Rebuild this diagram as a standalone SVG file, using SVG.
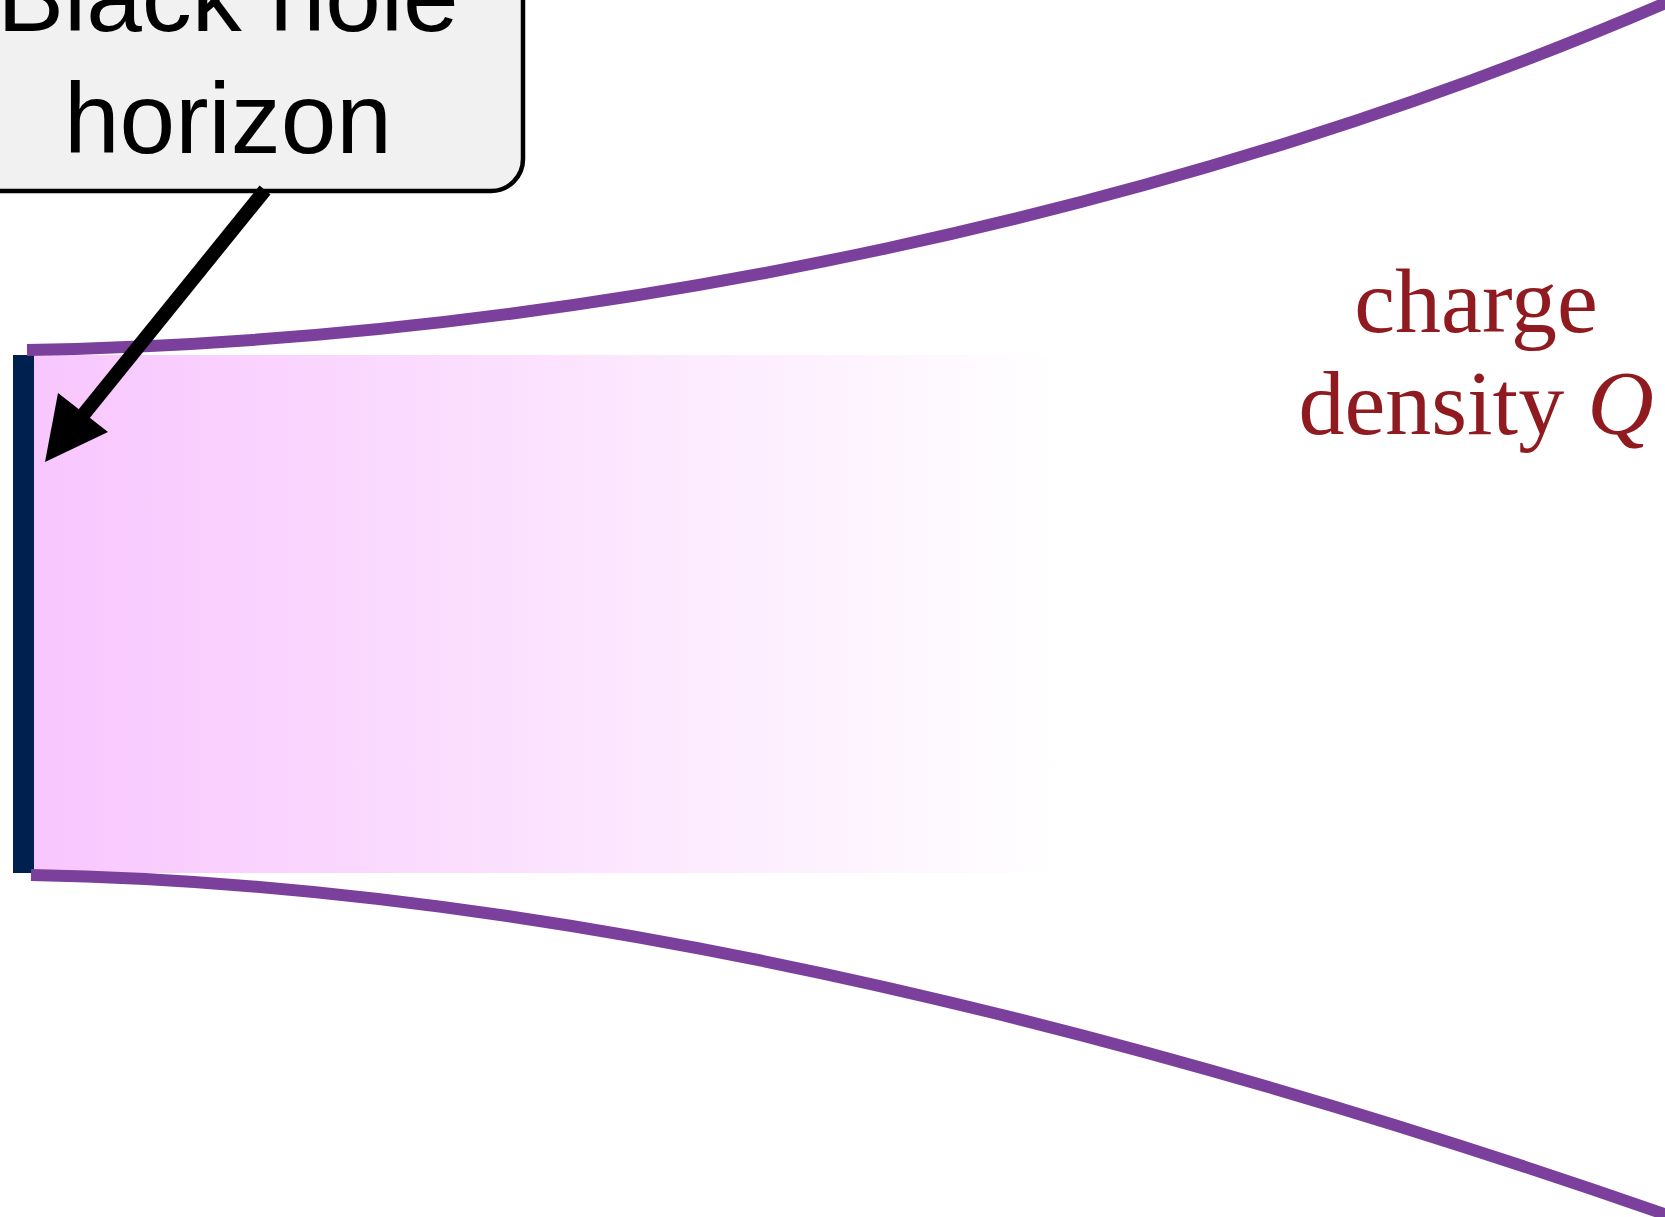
<svg xmlns="http://www.w3.org/2000/svg" width="1665" height="1217" viewBox="0 0 1665 1217">
<defs>
<style>
.brane{fill:none;stroke:#7b3f9c;stroke-width:12}
.boxtext{font-family:"Liberation Sans",Arial,sans-serif;font-size:100px;fill:#000}
.label{font-family:"Liberation Serif","Times New Roman",serif;font-size:92px;fill:#8f1a1f}
</style>
<linearGradient id="glow" x1="0" y1="0" x2="1" y2="0">
<stop offset="0" stop-color="#f8c6fe"/>
<stop offset="1" stop-color="#ffffff"/>
</linearGradient>
</defs>
<g id="bulk">
<rect x="34" y="355" width="1030" height="518" fill="url(#glow)"/>
</g>
<g id="horizon">
<rect x="13" y="355" width="21" height="518" fill="#002150"/>
</g>
<g id="branes">
<path class="brane" d="M27,350 C600,340 1200,205 1670,1"/>
<path class="brane" d="M31,875 C600,885 1200,1052 1670,1216"/>
</g>
<g id="label-box">
<rect x="-69" y="-100" width="592" height="291" rx="32" fill="#f1f1f1" stroke="#000" stroke-width="4.5"/>
<text class="boxtext" x="228" y="31" text-anchor="middle">Black hole</text>
<text class="boxtext" x="228" y="153" text-anchor="middle">horizon</text>
</g>
<g id="charge-label">
<text class="label" x="1476" y="332" text-anchor="middle">charge</text>
<text class="label" x="1476" y="434" text-anchor="middle">density <tspan font-style="italic">Q</tspan></text>
</g>
<g id="connectors">
<line x1="265" y1="190" x2="75" y2="425" stroke="#000" stroke-width="14"/>
<polygon points="45,462 58,393 108,432" fill="#000"/>
</g>
</svg>
